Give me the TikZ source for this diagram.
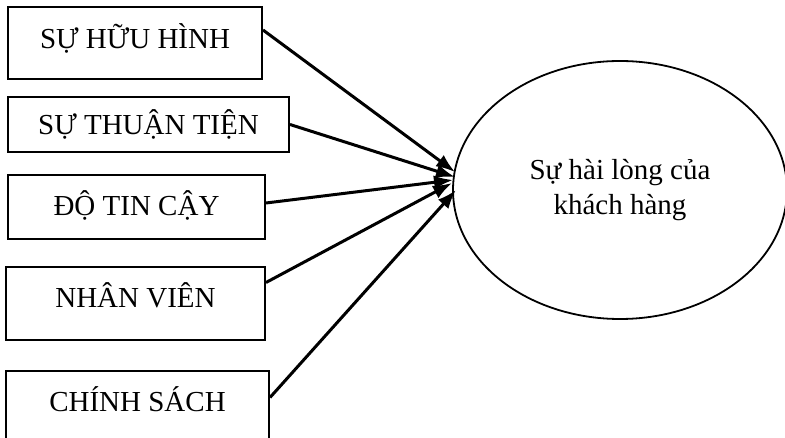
\documentclass[tikz,border=0pt]{standalone}
\usepackage{fontspec}
\setmainfont{Liberation Serif}
\usetikzlibrary{shapes.geometric, arrows.meta}
\tikzstyle{factor} = [draw, rectangle, line width=2pt, inner sep=0pt, font=\fontsize{29}{35}\selectfont]
\tikzstyle{target} = [draw, ellipse, line width=1.8pt, inner sep=0pt, align=center, font=\fontsize{29}{35}\selectfont]
\tikzstyle{link} = [->, line width=3pt]

\begin{document}
\begin{tikzpicture}[x=1pt, y=-1pt, >={Latex[length=19pt,width=14pt]}]
        \useasboundingbox (0,0) rectangle (785,438);
        % cac yeu to
        \node [factor, minimum width=254pt, minimum height=72pt, text depth=14pt] (huuhinh) at (135,43) {SỰ HỮU HÌNH};
        \node [factor, minimum width=281pt, minimum height=55pt] (thuantien) at (148.5,124.5) {SỰ THUẬN TIỆN};
        \node [factor, minimum width=257pt, minimum height=64pt, text depth=8pt] (tincay) at (136.5,207) {ĐỘ TIN CẬY};
        \node [factor, minimum width=259pt, minimum height=73pt, text depth=16pt] (nhanvien) at (135.5,303.5) {NHÂN VIÊN};
        \node [factor, minimum width=263pt, minimum height=73pt, text depth=16pt] (chinhsach) at (137.5,407.5) {CHÍNH SÁCH};
        % su hai long
        \node [target, minimum width=334pt, minimum height=258pt] (hailong) at (620,190) {Sự hài lòng của\\khách hàng};
        % dau mui ten
        \coordinate (t1) at (455,172);
        \coordinate (t2) at (455,177);
        \coordinate (t3) at (453,180);
        \coordinate (t4) at (452,183);
        \coordinate (t5) at (456,190);
        % noi cac nut
        \draw [link] ([yshift=13pt]huuhinh.east) -- (t1);
        \draw [link] (thuantien.east) -- (t2);
        \draw [link] ([yshift=4pt]tincay.east) -- (t3);
        \draw [link] ([yshift=21pt]nhanvien.east) -- (t4);
        \draw [link] ([yshift=10pt]chinhsach.east) -- (t5);
    \end{tikzpicture}
\end{document}
